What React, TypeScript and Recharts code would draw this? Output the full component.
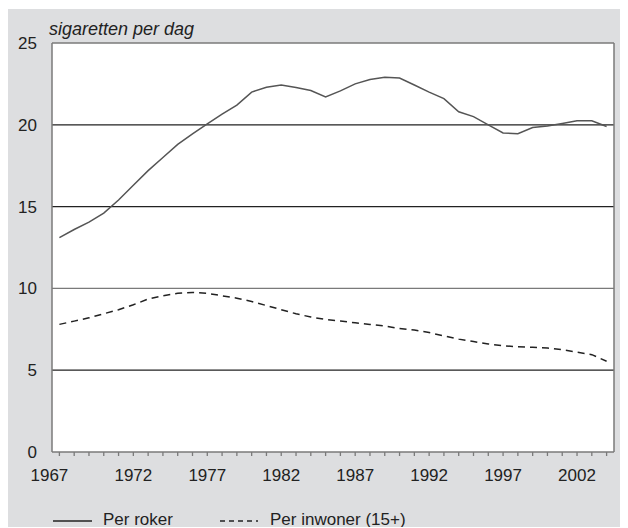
import { LineChart, Line, XAxis, YAxis, ReferenceLine, ReferenceArea } from "recharts";

const years = [
  1967, 1968, 1969, 1970, 1971, 1972, 1973, 1974, 1975, 1976,
  1977, 1978, 1979, 1980, 1981, 1982, 1983, 1984, 1985, 1986,
  1987, 1988, 1989, 1990, 1991, 1992, 1993, 1994, 1995, 1996,
  1997, 1998, 1999, 2000, 2001, 2002, 2003, 2004,
];

// sigaretten per dag, per roker
const perRoker = [
  13.1, 13.6, 14.05, 14.6, 15.4, 16.3, 17.2, 18.0, 18.8, 19.45,
  20.05, 20.65, 21.2, 22.0, 22.3, 22.43, 22.28, 22.1, 21.7, 22.07,
  22.5, 22.77, 22.9, 22.86, 22.43, 22.0, 21.6, 20.8, 20.5, 20.0,
  19.5, 19.45, 19.83, 19.93, 20.08, 20.24, 20.24, 19.9,
];

// sigaretten per dag, per inwoner (15+)
const perInwoner = [
  7.8, 8.0, 8.2, 8.45, 8.7, 9.0, 9.35, 9.55, 9.7, 9.75,
  9.7, 9.55, 9.4, 9.2, 8.95, 8.7, 8.45, 8.25, 8.1, 8.0,
  7.9, 7.8, 7.7, 7.55, 7.45, 7.3, 7.1, 6.9, 6.75, 6.6,
  6.5, 6.43, 6.4, 6.35, 6.25, 6.1, 5.95, 5.55,
];

const yTicks = [0, 5, 10, 15, 20, 25];
const labelYears = [1967, 1972, 1977, 1982, 1987, 1992, 1997, 2002];

const BG = "#dddee0";
const FRAME = "#7a7a7a";
const INK = "#222";
const FONT = "'Liberation Sans', Arial, Helvetica, sans-serif";

const data = years.map((year, i) => ({
  year,
  roker: perRoker[i],
  inwoner: perInwoner[i],
}));

const YearTick = (props: any) => {
  const { x, y, payload, index } = props;
  if (!labelYears.includes(payload.value)) return null;
  // first label sits a little left of its tick, as in the source
  const dx = index === 0 ? -10 : 0;
  return (
    <text
      x={x + dx}
      y={y}
      dy="0.71em"
      textAnchor="middle"
      fill={INK}
      fontSize={17}
      fontFamily={FONT}
    >
      {payload.value}
    </text>
  );
};

const App = () => {
  return (
    <div
      style={{
        position: "relative",
        top: 1,
        width: 620,
        height: 519,
        background: BG,
        fontFamily: FONT,
        color: INK,
      }}
    >
      <div
        style={{
          position: "absolute",
          left: 41,
          top: 11,
          fontSize: 18,
          lineHeight: "18px",
          fontStyle: "italic",
        }}
      >
        sigaretten per dag
      </div>
      <LineChart
        width={620}
        height={519}
        data={data}
        margin={{ top: 34, right: 0, bottom: 46, left: 0 }}
        style={{ position: "absolute", left: 0, top: 0 }}
      >
        <ReferenceArea y1={0} y2={25} fill="#fff" fillOpacity={1} stroke="none" />
        <XAxis
          dataKey="year"
          scale="band"
          interval={0}
          height={30}
          tick={<YearTick />}
          tickSize={4}
          tickMargin={13}
          tickLine={{ stroke: FRAME, strokeWidth: 1.3 }}
          axisLine={{ stroke: FRAME, strokeWidth: 1.5 }}
        />
        <YAxis
          domain={[0, 25]}
          ticks={yTicks}
          width={44}
          tickLine={false}
          tickMargin={9}
          axisLine={{ stroke: FRAME, strokeWidth: 1.5 }}
          tick={{ fill: INK, fontSize: 17, fontFamily: FONT }}
        />
        <YAxis
          yAxisId="right"
          orientation="right"
          domain={[0, 25]}
          width={14}
          tick={false}
          tickLine={false}
          axisLine={{ stroke: FRAME, strokeWidth: 1.5 }}
        />
        <ReferenceLine y={25} stroke={FRAME} strokeWidth={1.5} />
        <ReferenceLine y={20} stroke={INK} strokeWidth={1.3} />
        <ReferenceLine y={15} stroke={INK} strokeWidth={1.3} />
        <ReferenceLine y={10} stroke={FRAME} strokeWidth={1.3} />
        <ReferenceLine y={5} stroke={INK} strokeWidth={1.3} />
        <Line
          type="linear"
          dataKey="roker"
          stroke="#555"
          strokeWidth={1.5}
          dot={false}
          isAnimationActive={false}
        />
        <Line
          type="linear"
          dataKey="inwoner"
          stroke={INK}
          strokeWidth={1.5}
          strokeDasharray="7 5"
          dot={false}
          isAnimationActive={false}
        />
      </LineChart>
      <div
        style={{
          position: "absolute",
          left: 45,
          top: 502,
          display: "flex",
          alignItems: "center",
          fontSize: 17,
          lineHeight: "17px",
        }}
      >
        <svg width={39} height={17} style={{ marginRight: 11 }}>
          <line x1={0} x2={39} y1={10} y2={10} stroke={INK} strokeWidth={1.3} />
        </svg>
        <span style={{ width: 117 }}>Per roker</span>
        <svg width={38} height={17} style={{ marginRight: 12 }}>
          <line
            x1={0}
            x2={38}
            y1={10}
            y2={10}
            stroke={INK}
            strokeWidth={1.3}
            strokeDasharray="5 4"
          />
        </svg>
        <span>Per inwoner (15+)</span>
      </div>
    </div>
  );
};

export default App;
